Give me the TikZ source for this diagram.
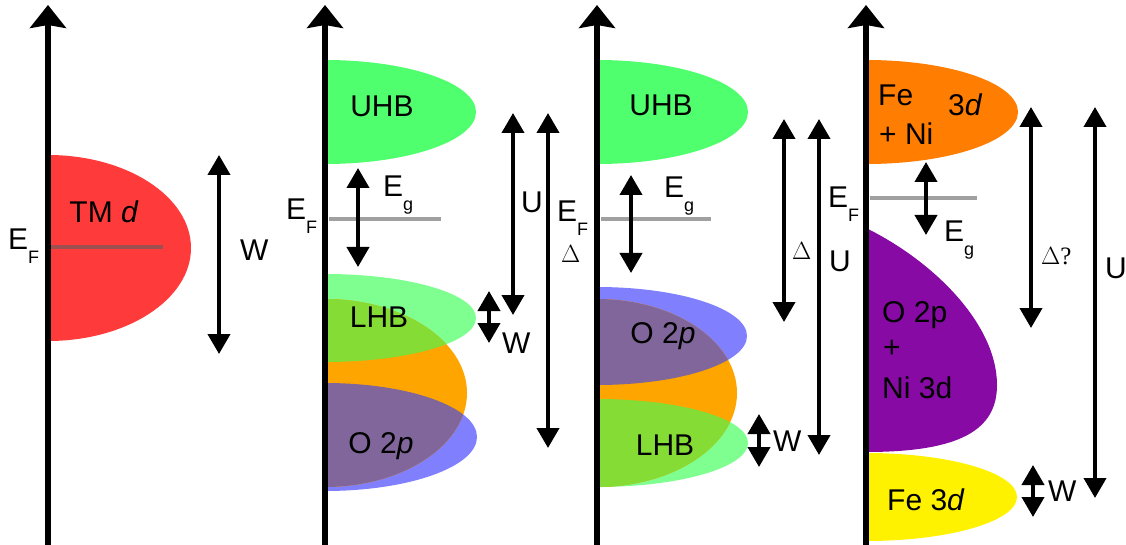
\documentclass[tikz,border=0pt]{standalone}
\usepackage{fontspec}
\setmainfont{Liberation Sans}
\newfontfamily\serifdelta{Liberation Serif}
\usetikzlibrary{arrows.meta}
\definecolor{tmred}{RGB}{255,58,58}
\definecolor{uhbgreen}{RGB}{80,255,110}
\definecolor{lhbgreen}{RGB}{128,255,145}
\definecolor{lhbover}{RGB}{133,220,52}
\definecolor{oblue}{RGB}{128,128,255}
\definecolor{oblueover}{RGB}{128,102,155}
\definecolor{bandorange}{RGB}{255,165,0}
\definecolor{feorange}{RGB}{255,125,0}
\definecolor{opurple}{RGB}{135,10,165}
\definecolor{efline}{RGB}{160,160,160}
\definecolor{efred}{RGB}{156,80,80}
\tikzset{
  axisline/.style={line width=6.5pt,-{Stealth[width=36pt,length=23pt,inset=3pt]}},
  dblarrow/.style={line width=4pt,{Triangle[width=22pt,length=20pt]}-{Triangle[width=22pt,length=20pt]}},
  efl/.style={line width=4pt,efline},
  lbl/.style={inner sep=0pt,font=\fontsize{30}{30}\selectfont},
  dlbl/.style={inner sep=0pt,font=\fontsize{25}{25}\selectfont\serifdelta},
}
\newcommand{\EF}{E\raisebox{-0.45em}{\fontsize{18}{18}\selectfont F}}
\newcommand{\Eg}{E\raisebox{-0.45em}{\fontsize{18}{18}\selectfont g}}
\begin{document}
\begin{tikzpicture}[x=1pt,y=-1pt]
\useasboundingbox (0,0) rectangle (1126,545);
% ---------- panel 1
\begin{scope}
  \clip (48,0) rectangle (260,545);
  \fill[tmred] (48,248) ellipse [x radius=143, y radius=93];
\end{scope}
\coordinate (ef1a) at (48,247); \coordinate (ef1b) at (163,247);
\draw[line width=4pt,efred] (ef1a) -- (ef1b);
\coordinate (ax1b) at (48,545); \coordinate (ax1t) at (48,5);
\draw[axisline] (ax1b) -- (ax1t);
\node[lbl,anchor=base] (tmd) at (104,223) {TM \textit{d}};
\node[lbl,anchor=base west] (ef1) at (8,250) {\EF};
\coordinate (w1a) at (219,155); \coordinate (w1b) at (219,354);
\draw[dblarrow] (w1a) -- (w1b);
\node[lbl,anchor=base west] (w1) at (240,260) {W};
% ---------- panel 2
\begin{scope}
  \clip (325,0) rectangle (540,545);
  \fill[uhbgreen] (325,112) ellipse [x radius=151, y radius=52];
  \fill[lhbgreen] (325,318) ellipse [x radius=151, y radius=44];
  \fill[oblue] (325,437) ellipse [x radius=152, y radius=54];
  \fill[bandorange] (325,393) ellipse [x radius=142, y radius=94];
  \begin{scope}
    \clip (325,393) ellipse [x radius=142, y radius=94];
    \fill[lhbover] (325,318) ellipse [x radius=151, y radius=44];
    \fill[oblueover] (325,437) ellipse [x radius=152, y radius=54];
  \end{scope}
\end{scope}
\coordinate (ef2a) at (329,219); \coordinate (ef2b) at (441,219);
\draw[efl] (ef2a) -- (ef2b);
\coordinate (ax2b) at (325,545); \coordinate (ax2t) at (325,5);
\draw[axisline] (ax2b) -- (ax2t);
\node[lbl,anchor=base] (uhb2) at (382,117) {UHB};
\node[lbl,anchor=base] (lhb2) at (379,327) {LHB};
\node[lbl,anchor=base] (o2p2) at (381,453) {O 2\textit{p}};
\node[lbl,anchor=base west] (ef2) at (286,220) {\EF};
\coordinate (eg2a) at (358,168); \coordinate (eg2b) at (358,267);
\draw[dblarrow] (eg2a) -- (eg2b);
\node[lbl,anchor=base west] (eg2) at (383,197) {\Eg};
\coordinate (u2a) at (513,113); \coordinate (u2b) at (513,315);
\draw[dblarrow] (u2a) -- (u2b);
\node[lbl,anchor=base west] (u2) at (521,213) {U};
\coordinate (d2a) at (548,113); \coordinate (d2b) at (548,448);
\draw[dblarrow] (d2a) -- (d2b);
\node[dlbl,anchor=base west] (d2) at (561,262) {$\Delta$};
\coordinate (w2a) at (489,291); \coordinate (w2b) at (489,343);
\draw[dblarrow] (w2a) -- (w2b);
\node[lbl,anchor=base west] (w2) at (502,353) {W};
% ---------- panel 3
\begin{scope}
  \clip (597,0) rectangle (770,545);
  \fill[uhbgreen] (597,112) ellipse [x radius=151, y radius=52];
  \fill[oblue] (597,336) ellipse [x radius=150, y radius=49];
  \fill[lhbgreen] (597,443) ellipse [x radius=151, y radius=44];
  \fill[bandorange] (597,393) ellipse [x radius=140, y radius=94];
  \begin{scope}
    \clip (597,393) ellipse [x radius=140, y radius=94];
    \fill[oblueover] (597,336) ellipse [x radius=150, y radius=49];
    \fill[lhbover] (597,443) ellipse [x radius=151, y radius=44];
  \end{scope}
\end{scope}
\coordinate (ef3a) at (601,219); \coordinate (ef3b) at (711,219);
\draw[efl] (ef3a) -- (ef3b);
\coordinate (ax3b) at (597,545); \coordinate (ax3t) at (597,5);
\draw[axisline] (ax3b) -- (ax3t);
\node[lbl,anchor=base] (uhb3) at (661,116) {UHB};
\node[lbl,anchor=base] (o2p3) at (663,343) {O 2\textit{p}};
\node[lbl,anchor=base] (lhb3) at (665,455) {LHB};
\node[lbl,anchor=base west] (ef3) at (557,222) {\EF};
\coordinate (eg3a) at (631,175); \coordinate (eg3b) at (631,273);
\draw[dblarrow] (eg3a) -- (eg3b);
\node[lbl,anchor=base west] (eg3) at (664,198) {\Eg};
\coordinate (d3a) at (784,119); \coordinate (d3b) at (784,322);
\draw[dblarrow] (d3a) -- (d3b);
\node[dlbl,anchor=base west] (d3) at (792,259) {$\Delta$};
\coordinate (u3a) at (819,119); \coordinate (u3b) at (819,455);
\draw[dblarrow] (u3a) -- (u3b);
\node[lbl,anchor=base west] (u3) at (829,272) {U};
\coordinate (w3a) at (759,414); \coordinate (w3b) at (759,467);
\draw[dblarrow] (w3a) -- (w3b);
\node[lbl,anchor=base west] (w3) at (773,451) {W};
% ---------- panel 4
\begin{scope}
  \clip (866,0) rectangle (1030,545);
  \fill[feorange] (866,112) ellipse [x radius=152, y radius=52];
  \fill[yellow] (866,497) ellipse [x radius=151, y radius=44];
  \fill[opurple] (866,228) .. controls (935,262) and (997,325) .. (997,385)
     .. controls (997,430) and (960,452) .. (866,452) -- cycle;
\end{scope}
\coordinate (ef4a) at (870,198); \coordinate (ef4b) at (977,198);
\draw[efl] (ef4a) -- (ef4b);
\coordinate (ax4b) at (866,545); \coordinate (ax4t) at (866,5);
\draw[axisline] (ax4b) -- (ax4t);
\node[lbl,anchor=base west] (fe4) at (878,106) {Fe};
\node[lbl,anchor=base west] (d4) at (948,116) {3\textit{d}};
\node[lbl,anchor=base west] (ni4) at (879,145) {+ Ni};
\node[lbl,anchor=base west] (o2p4) at (882,322) {O 2p};
\node[lbl,anchor=base west] (plus4) at (883,357) {+};
\node[lbl,anchor=base west] (ni3d4) at (882,398) {Ni 3d};
\node[lbl,anchor=base west] (fe3d4) at (887,510) {Fe 3\textit{d}};
\node[lbl,anchor=base west] (ef4) at (828,208) {\EF};
\coordinate (eg4a) at (926,162); \coordinate (eg4b) at (926,235);
\draw[dblarrow] (eg4a) -- (eg4b);
\node[lbl,anchor=base west] (eg4) at (944,242) {\Eg};
\coordinate (dq4a) at (1031,107); \coordinate (dq4b) at (1031,328);
\draw[dblarrow] (dq4a) -- (dq4b);
\node[dlbl,anchor=base west] (dq4) at (1041,265) {$\Delta$?};
\coordinate (u4a) at (1095,107); \coordinate (u4b) at (1095,498);
\draw[dblarrow] (u4a) -- (u4b);
\node[lbl,anchor=base west] (u4) at (1105,278) {U};
\coordinate (w4a) at (1033,465); \coordinate (w4b) at (1033,517);
\draw[dblarrow] (w4a) -- (w4b);
\node[lbl,anchor=base west] (w4) at (1048,501) {W};
\end{tikzpicture}
\end{document}
